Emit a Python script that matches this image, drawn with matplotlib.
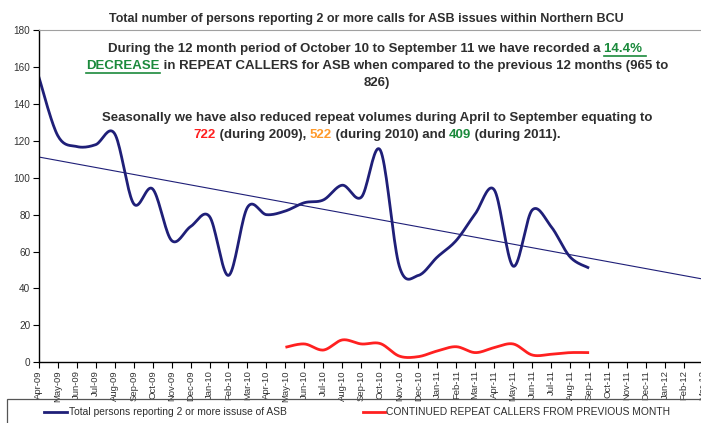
import matplotlib
matplotlib.use("Agg")
import matplotlib.pyplot as plt
from matplotlib.lines import Line2D
from matplotlib.patches import Rectangle
import numpy as np

plt.rcParams['font.family'] = ['Liberation Sans', 'DejaVu Sans']

months = ["Apr-09", "May-09", "Jun-09", "Jul-09", "Aug-09", "Sep-09", "Oct-09", "Nov-09",
          "Dec-09", "Jan-10", "Feb-10", "Mar-10", "Apr-10", "May-10", "Jun-10", "Jul-10",
          "Aug-10", "Sep-10", "Oct-10", "Nov-10", "Dec-10", "Jan-11", "Feb-11", "Mar-11",
          "Apr-11", "May-11", "Jun-11", "Jul-11", "Aug-11", "Sep-11", "Oct-11", "Nov-11",
          "Dec-11", "Jan-12", "Feb-12", "Mar-12"]

total_persons = [155, 123, 117, 118, 124, 86, 94, 66, 73.5, 79, 47, 84, 80, 82, 86.5, 88,
                 96, 89.5, 115, 52, 47, 57, 66, 80.5, 93.5, 52, 82.5, 73.5, 57, 51]

repeat_start = 13  # May-10
repeat_callers = [8, 9.8, 6.5, 12, 9.8, 10, 3.2, 2.9, 6, 8.3, 5.1, 7.8, 9.8, 3.8, 4.2, 5.1, 5.1]

navy = '#1f1f78'
red = '#ff2020'
green = '#1b8a3c'
orange = '#ff9a2a'
txt = '#2e2e2e'


def smooth(x, y, n=20):
    # excel style smoothed line (catmull-rom through the points)
    x = np.asarray(x, float)
    y = np.asarray(y, float)
    px = np.concatenate([[x[0]], x, [x[-1]]])
    py = np.concatenate([[y[0]], y, [y[-1]]])
    xs, ys = [], []
    t = np.linspace(0, 1, n)
    for i in range(1, len(px) - 2):
        p0 = np.array([px[i], py[i]])
        p3 = np.array([px[i + 1], py[i + 1]])
        p1 = p0 + (np.array([px[i + 1], py[i + 1]]) - np.array([px[i - 1], py[i - 1]])) / 6
        p2 = p3 - (np.array([px[i + 2], py[i + 2]]) - np.array([px[i], py[i]])) / 6
        b = ((1 - t) ** 3)[:, None] * p0 + (3 * (1 - t) ** 2 * t)[:, None] * p1 \
            + (3 * (1 - t) * t ** 2)[:, None] * p2 + (t ** 3)[:, None] * p3
        xs.extend(b[:, 0])
        ys.extend(b[:, 1])
    return xs, ys


fig = plt.figure(figsize=(7.01, 4.23), dpi=100)
W, H = 701, 423
ax = fig.add_axes([38.7 / W, 61 / H, (703 - 38.7) / W, (362 - 30.5) / H])

idx = np.arange(len(total_persons))
sx, sy = smooth(idx, total_persons)
ax.plot(sx, sy, color=navy, lw=2.0, solid_capstyle='butt')

ridx = np.arange(repeat_start, repeat_start + len(repeat_callers))
rx, ry = smooth(ridx, repeat_callers)
ax.plot(rx, ry, color=red, lw=2.0, solid_capstyle='butt')

# linear trend of the total series, extended to Mar-12
coef = np.polyfit(idx, total_persons, 1)
tx = np.arange(len(months))
ax.plot(tx, np.polyval(coef, tx), color=navy, lw=0.8)

ax.set_xlim(0, len(months) - 1)
ax.set_ylim(0, 180)
ax.set_yticks(range(0, 181, 20))
ax.set_xticks(range(len(months)))
ax.set_xticklabels(months, rotation=90, fontsize=6.8, color='#333333')
ax.tick_params(axis='y', labelsize=7.2, colors='#333333', length=4, width=0.8, pad=2)
ax.tick_params(axis='x', length=4, width=0.8, pad=2, colors='#333333')
ax.tick_params(axis='both', color='black')
ax.spines['top'].set_color('#a0a0a0')
ax.spines['right'].set_visible(False)
for s in ['left', 'bottom']:
    ax.spines[s].set_linewidth(1.0)

fig.text(366 / W, 1 - 19 / H, "Total number of persons reporting 2 or more calls for ASB issues within Northern BCU",
         ha='center', va='center', fontsize=9, fontweight='bold', color=txt)

# annotation text with coloured pieces
fig.canvas.draw()
renderer = fig.canvas.get_renderer()
cx = 377
fs = 9.5
lines = [
    (49, [("During the 12 month period of October 10 to September 11 we have recorded a ", txt, False),
          ("14.4% ", green, True)]),
    (66, [("DECREASE", green, True),
          (" in REPEAT CALLERS for ASB when compared to the previous 12 months (965 to", txt, False)]),
    (83, [("826)", txt, False)]),
    (118, [("Seasonally we have also reduced repeat volumes during April to September equating to", txt, False)]),
    (135, [("722", red, False), (" (during 2009), ", txt, False), ("522", orange, False),
           (" (during 2010) and ", txt, False), ("409", green, False), (" (during 2011).", txt, False)]),
]
for ypix, segs in lines:
    objs = []
    for s, c, u in segs:
        t = fig.text(0, 1 - ypix / H, s, fontsize=fs, fontweight='bold', color=c, va='center', ha='left')
        objs.append((t, u, c))
    widths = [o[0].get_window_extent(renderer).width for o in objs]
    x0 = cx - sum(widths) / 2
    for (t, u, c), w in zip(objs, widths):
        t.set_x(x0 / W)
        if u:
            yl = 1 - (ypix + 7) / H
            fig.add_artist(Line2D([x0 / W, (x0 + w) / W], [yl, yl], color=c, lw=1.2,
                                  transform=fig.transFigure))
        x0 += w

# legend box
fig.add_artist(Rectangle((7 / W, -0.1), 1.0, (1 - 399 / H) + 0.1, transform=fig.transFigure,
                         fill=False, edgecolor='#555555', lw=0.9))
ly = 1 - 412 / H
fig.add_artist(Line2D([44 / W, 67 / W], [ly, ly], color=navy, lw=2.0, transform=fig.transFigure))
fig.text(69 / W, ly, "Total persons reporting 2 or more issuse of ASB", fontsize=7.4, color=txt, va='center')
fig.add_artist(Line2D([363 / W, 385 / W], [ly, ly], color=red, lw=2.0, transform=fig.transFigure))
fig.text(386 / W, ly, "CONTINUED REPEAT CALLERS FROM PREVIOUS MONTH", fontsize=7.4, color=txt, va='center')

fig.savefig("out.png", dpi=100)
